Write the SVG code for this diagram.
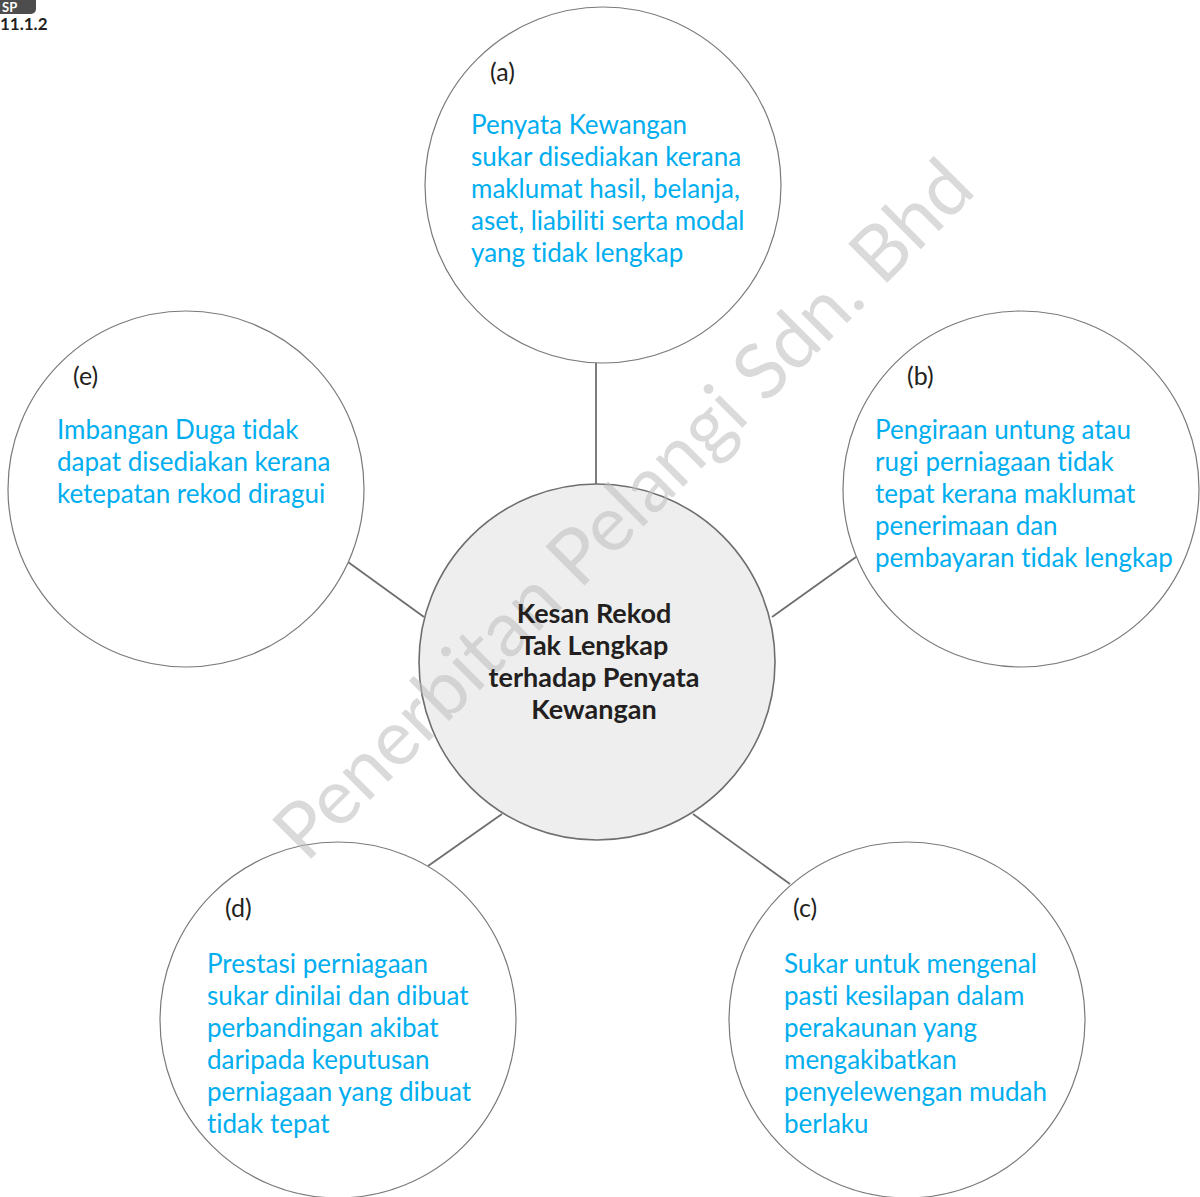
<svg xmlns="http://www.w3.org/2000/svg" width="1200" height="1197" viewBox="0 0 1200 1197">
<style>
text{font-variant-ligatures:none}
.node{fill:#ffffff;stroke:#7a7a7a;stroke-width:1.2}
.core{fill:#eeeeee;stroke:#6e6e6e;stroke-width:1.6}
.conn line{stroke:#6e6e6e;stroke-width:1.8}
.lbl{font-family:Lato,"Open Sans",sans-serif;font-size:25px;fill:#231f20}
.txt{font-family:Lato,"Open Sans",sans-serif;font-size:26px;fill:#00aeef}
.ctr{font-family:Lato,"Open Sans",sans-serif;font-size:27px;font-weight:bold;fill:#231f20;text-anchor:middle}
.wm{font-family:Lato,"Open Sans",sans-serif;font-size:77px;fill:#bdbdbd;opacity:0.55}
</style>
<rect width="1200" height="1197" fill="#ffffff"/>
<g id="badge">
<rect x="-6" y="-10" width="42" height="24" rx="5" fill="#4d4d4d"/>
<text x="2" y="12" font-family="Lato,sans-serif" font-size="13" font-weight="bold" fill="#ffffff">SP</text>
<text x="0" y="30" font-family="Lato,sans-serif" font-size="17" font-weight="bold" fill="#231f20">11.1.2</text>
</g>
<g class="conn" id="connectors">
<line x1="596" y1="363" x2="596" y2="484"/>
<line x1="856" y1="557" x2="772" y2="617"/>
<line x1="348" y1="562" x2="424" y2="617"/>
<line x1="428" y1="866" x2="502" y2="814"/>
<line x1="693" y1="814" x2="790" y2="884"/>
</g>
<g id="node-a">
<circle class="node" cx="603" cy="185" r="178"/>
<text class="lbl" x="490" y="81">(a)</text>
<text class="txt"><tspan x="471" y="134">Penyata Kewangan</tspan><tspan x="471" y="166">sukar disediakan kerana</tspan><tspan x="471" y="198">maklumat hasil, belanja,</tspan><tspan x="471" y="230">aset, liabiliti serta modal</tspan><tspan x="471" y="262">yang tidak lengkap</tspan></text>
</g>
<g id="node-b">
<circle class="node" cx="1021" cy="489" r="178"/>
<text class="lbl" x="907" y="385">(b)</text>
<text class="txt"><tspan x="875" y="439">Pengiraan untung atau</tspan><tspan x="875" y="471">rugi perniagaan tidak</tspan><tspan x="875" y="503">tepat kerana maklumat</tspan><tspan x="875" y="535">penerimaan dan</tspan><tspan x="875" y="567">pembayaran tidak lengkap</tspan></text>
</g>
<g id="node-e">
<circle class="node" cx="186" cy="489" r="178"/>
<text class="lbl" x="73" y="385">(e)</text>
<text class="txt"><tspan x="57" y="439">Imbangan Duga tidak</tspan><tspan x="57" y="471">dapat disediakan kerana</tspan><tspan x="57" y="503">ketepatan rekod diragui</tspan></text>
</g>
<g id="node-d">
<circle class="node" cx="338" cy="1020" r="178"/>
<text class="lbl" x="225" y="917">(d)</text>
<text class="txt"><tspan x="207" y="973">Prestasi perniagaan</tspan><tspan x="207" y="1005">sukar dinilai dan dibuat</tspan><tspan x="207" y="1037">perbandingan akibat</tspan><tspan x="207" y="1069">daripada keputusan</tspan><tspan x="207" y="1101">perniagaan yang dibuat</tspan><tspan x="207" y="1133">tidak tepat</tspan></text>
</g>
<g id="node-c">
<circle class="node" cx="907" cy="1020" r="178"/>
<text class="lbl" x="793" y="917">(c)</text>
<text class="txt"><tspan x="784" y="973">Sukar untuk mengenal</tspan><tspan x="784" y="1005">pasti kesilapan dalam</tspan><tspan x="784" y="1037">perakaunan yang</tspan><tspan x="784" y="1069">mengakibatkan</tspan><tspan x="784" y="1101">penyelewengan mudah</tspan><tspan x="784" y="1133">berlaku</tspan></text>
</g>
<g id="node-center">
<circle class="core" cx="597" cy="662" r="178"/>
</g>
<text class="wm" x="0" y="0" text-anchor="middle" transform="translate(642,528) rotate(-45)">Penerbitan Pelangi Sdn. Bhd</text>
<g id="center-text">
<text class="ctr"><tspan x="594" y="623">Kesan Rekod</tspan><tspan x="594" y="655">Tak Lengkap</tspan><tspan x="594" y="687">terhadap Penyata</tspan><tspan x="594" y="719">Kewangan</tspan></text>
</g>
</svg>
